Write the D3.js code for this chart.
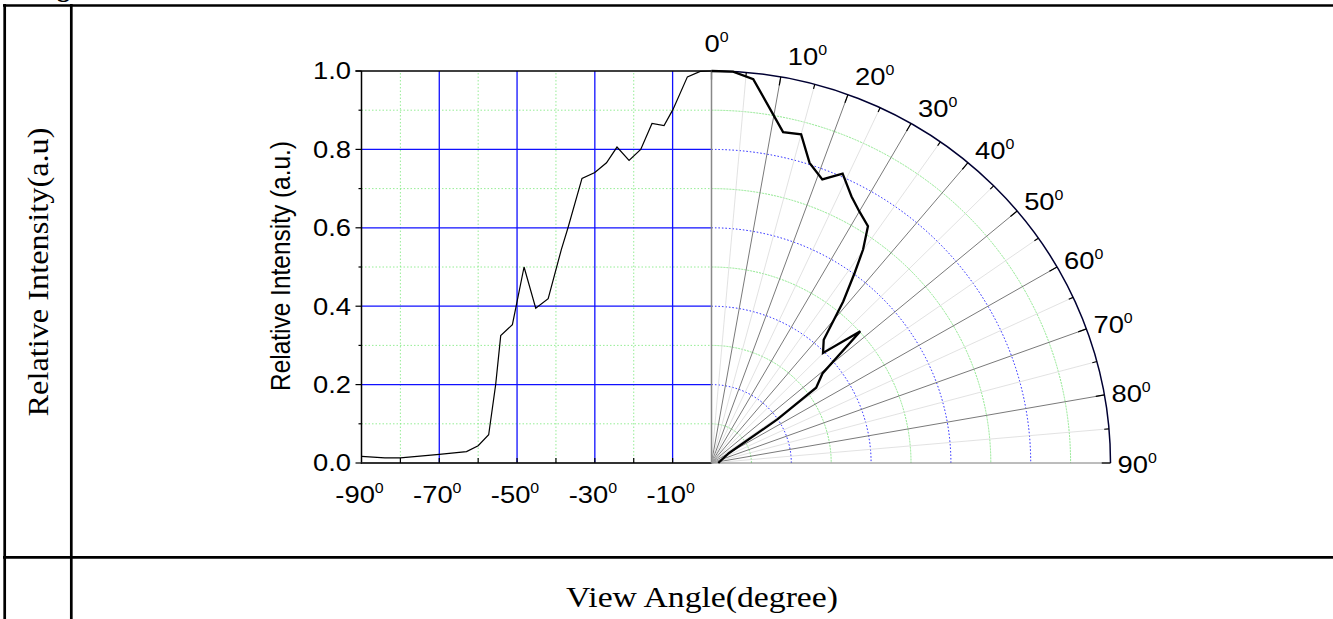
<!DOCTYPE html>
<html>
<head>
<meta charset="utf-8">
<script src="https://cdn.jsdelivr.net/npm/d3@7"></script>
<style>
  body { margin: 0; background: #fff; }
  svg { display: block; }
</style>
</head>
<body>
<svg id="chart" width="1333" height="619"></svg>
<script>
// left panel: intensity vs negative view angle
const leftAngles = [-90, -84, -80, -70, -63, -60, -57.3, -55.5, -54.2, -51.2, -48.2, -45.2, -42, -38.6, -36.9, -33.3, -30, -27, -24.3, -21.2, -18.2, -15.3, -12.2, -9.9, -6.2, -2.9, 0]
const leftValues = [0.017, 0.013, 0.013, 0.022, 0.029, 0.044, 0.072, 0.2, 0.325, 0.353, 0.5, 0.395, 0.419, 0.545, 0.6, 0.726, 0.741, 0.766, 0.806, 0.772, 0.8, 0.866, 0.861, 0.902, 0.985, 0.999, 1.0]

// right panel: polar plot, positive view angle
const polarAngles = [0, 3.1, 6.1, 12, 15, 17.8, 21, 24, 27.3, 30, 33, 34.9, 36.5, 38.7, 41.8, 44.9, 48, 50.6, 53.8, 56, 60, 90]
const polarValues = [1.0, 1.0, 0.985, 0.863, 0.868, 0.804, 0.775, 0.808, 0.765, 0.741, 0.72, 0.664, 0.603, 0.528, 0.422, 0.396, 0.502, 0.36, 0.325, 0.2, 0.05, 0.017]

const xTickLabels = [-90, -70, -50, -30, -10]
const yTickLabels = [0, 0.2, 0.4, 0.6, 0.8, 1.0]
const polarTickLabels = [0, 10, 20, 30, 40, 50, 60, 70, 80, 90]

const sans = "'Liberation Sans', Arial, sans-serif"
const serif = "'Liberation Serif', 'Times New Roman', serif"
const labelSize = 24
const stretch = 1.14
const at = (tx, ty) => `translate(${tx},${ty}) scale(${stretch},1)`

const svg = d3.select("#chart")

// table frame
const frame = svg.append("g").attr("stroke", "#000").attr("stroke-width", 2.7)
frame.append("line").attr("x1", 3).attr("x2", 1333).attr("y1", 5.5).attr("y2", 5.5)
frame.append("line").attr("x1", 4.7).attr("x2", 4.7).attr("y1", 4).attr("y2", 619)
frame.append("line").attr("x1", 71.3).attr("x2", 71.3).attr("y1", 4).attr("y2", 619)
frame.append("line").attr("x1", 3).attr("x2", 1333).attr("y1", 557.3).attr("y2", 557.3)

svg.append("text")
  .attr("x", 34).attr("y", -3)
  .attr("font-family", serif).attr("font-size", 26).attr("font-weight", "bold")
  .text("Fig")

svg.append("text")
  .attr("transform", "translate(48,272) rotate(-90)")
  .attr("text-anchor", "middle")
  .attr("font-family", serif).attr("font-size", 30)
  .attr("textLength", 289).attr("lengthAdjust", "spacingAndGlyphs")
  .text("Relative Intensity(a.u)")

svg.append("text")
  .attr("x", 702).attr("y", 607)
  .attr("text-anchor", "middle")
  .attr("font-family", serif).attr("font-size", 30)
  .attr("textLength", 272).attr("lengthAdjust", "spacingAndGlyphs")
  .text("View Angle(degree)")

// scales
const x = d3.scaleLinear().domain([-90, 0]).range([361.5, 711.5])
const y = d3.scaleLinear().domain([0, 1]).range([463, 71])
const cx = 711.5, cy = 463
const rX = d3.scaleLinear().domain([0, 1]).range([0, 399])
const rY = d3.scaleLinear().domain([0, 1]).range([0, 392])
const rad = (a) => a * Math.PI / 180
const px = (a, r) => cx + rX(r) * Math.sin(rad(a))
const py = (a, r) => cy - rY(r) * Math.cos(rad(a))

// left grid
const grid = svg.append("g")
grid.selectAll(".vminor")
  .data(d3.range(-80, 0, 20))
  .join("line")
  .attr("x1", (d) => x(d)).attr("x2", (d) => x(d))
  .attr("y1", y(0)).attr("y2", y(1))
  .attr("stroke", "#7be87b").attr("stroke-width", 0.8).attr("stroke-dasharray", "1.5,2")
grid.selectAll(".hminor")
  .data(d3.range(0.1, 1, 0.2))
  .join("line")
  .attr("x1", x(-90)).attr("x2", x(0))
  .attr("y1", (d) => y(d)).attr("y2", (d) => y(d))
  .attr("stroke", "#7be87b").attr("stroke-width", 0.8).attr("stroke-dasharray", "1.5,2")
grid.selectAll(".vmajor")
  .data(d3.range(-70, 0, 20))
  .join("line")
  .attr("x1", (d) => x(d)).attr("x2", (d) => x(d))
  .attr("y1", y(0)).attr("y2", y(1))
  .attr("stroke", "#1010ff").attr("stroke-width", 1.3)
grid.selectAll(".hmajor")
  .data([0.2, 0.4, 0.6, 0.8])
  .join("line")
  .attr("x1", x(-90)).attr("x2", x(0))
  .attr("y1", (d) => y(d)).attr("y2", (d) => y(d))
  .attr("stroke", "#1010ff").attr("stroke-width", 1.3)

// polar grid: rings
const ringPath = (r) => `M${cx},${cy - rY(r)} A${rX(r)},${rY(r)} 0 0 1 ${cx + rX(r)},${cy}`
const polar = svg.append("g")
polar.selectAll(".ring")
  .data(d3.range(1, 10).map((i) => i / 10))
  .join("path")
  .attr("d", ringPath)
  .attr("fill", "none")
  .attr("stroke", (d, i) => i % 2 ? "#1a1aff" : "#8ee88e")
  .attr("stroke-width", 1)
  .attr("stroke-dasharray", (d, i) => i % 2 ? "1.5,2" : "2,1")

// polar grid: spokes
polar.selectAll(".spoke")
  .data(d3.range(0, 91, 5))
  .join("line")
  .attr("x1", cx).attr("y1", cy)
  .attr("x2", (d) => px(d, 1)).attr("y2", (d) => py(d, 1))
  .attr("stroke", (d) => d % 10 === 0 ? "#7a7a7a" : "#dadada")
  .attr("stroke-width", (d) => d % 10 === 0 ? 1 : 0.8)

polar.append("path")
  .attr("d", ringPath(1))
  .attr("fill", "none").attr("stroke", "#000033").attr("stroke-width", 1.5)

// polar ticks on the outer arc
polar.selectAll(".ptick")
  .data(d3.range(0, 91, 5))
  .join("line")
  .attr("x1", (d) => px(d, 1)).attr("y1", (d) => py(d, 1))
  .attr("x2", (d) => px(d, d % 10 === 0 ? 0.978 : 0.988))
  .attr("y2", (d) => py(d, d % 10 === 0 ? 0.978 : 0.988))
  .attr("stroke", "#000").attr("stroke-width", 1.2)

// polar angle labels
const plabels = polar.selectAll(".plabel")
  .data(polarTickLabels)
  .join("text")
  .attr("transform", (d) => at(
    px(d, 1) + (d === 0 ? -7 : 7),
    py(d, 1) + (d === 0 ? -19 : -15 + 25 * d / 90)))
  .attr("font-family", sans).attr("font-size", labelSize)
plabels.append("tspan").text((d) => d)
plabels.append("tspan").attr("dy", -10).attr("font-size", 14).text("0")

// left axes
const axes = svg.append("g").attr("stroke", "#000")
axes.append("line")
  .attr("x1", x(-90)).attr("x2", x(-90)).attr("y1", y(0) + 1).attr("y2", y(1))
  .attr("stroke-width", 1.5)
axes.append("line")
  .attr("x1", x(-90) - 6).attr("x2", x(0)).attr("y1", y(1)).attr("y2", y(1))
  .attr("stroke-width", 1.5)
axes.append("line")
  .attr("x1", x(-90)).attr("x2", x(0)).attr("y1", y(0)).attr("y2", y(0))
  .attr("stroke", "#333").attr("stroke-width", 2)
axes.selectAll(".ytick")
  .data(d3.range(0, 11).map((i) => i / 10))
  .join("line")
  .attr("x1", (d, i) => x(-90) - (i % 2 ? 3 : 6)).attr("x2", x(-90))
  .attr("y1", (d) => y(d)).attr("y2", (d) => y(d))
  .attr("stroke-width", 1.2)
axes.selectAll(".xtick")
  .data(d3.range(-80, 0, 10))
  .join("line")
  .attr("x1", (d) => x(d)).attr("x2", (d) => x(d))
  .attr("y1", y(0)).attr("y2", y(0) - 5)
  .attr("stroke-width", 1.2)
axes.append("line")
  .attr("x1", x(0)).attr("x2", x(0)).attr("y1", y(0)).attr("y2", y(1))
  .attr("stroke", "#888").attr("stroke-width", 1.5)

svg.selectAll(".ylabel")
  .data(yTickLabels)
  .join("text")
  .attr("transform", (d) => at(351, y(d)))
  .attr("dy", "0.35em")
  .attr("text-anchor", "end")
  .attr("font-family", sans).attr("font-size", labelSize)
  .text((d) => d3.format(".1f")(d))

const xlabels = svg.selectAll(".xlabel")
  .data(xTickLabels)
  .join("text")
  .attr("transform", (d) => at(x(d) - 2, 503))
  .attr("text-anchor", "middle")
  .attr("font-family", sans).attr("font-size", labelSize)
xlabels.append("tspan").text((d) => d)
xlabels.append("tspan").attr("dy", -10).attr("font-size", 14).text("0")

svg.append("text")
  .attr("transform", `translate(290,266) rotate(-90) scale(1,${stretch})`)
  .attr("text-anchor", "middle")
  .attr("font-family", sans).attr("font-size", labelSize)
  .attr("textLength", 250).attr("lengthAdjust", "spacingAndGlyphs")
  .text("Relative Intensity (a.u.)")

// curves
svg.append("path")
  .datum(d3.zip(leftAngles, leftValues))
  .attr("fill", "none").attr("stroke", "#000").attr("stroke-width", 1.2)
  .attr("d", d3.line().x((d) => x(d[0])).y((d) => y(d[1])))

svg.append("path")
  .datum(d3.zip(polarAngles, polarValues))
  .attr("fill", "none").attr("stroke", "#000").attr("stroke-width", 2.3)
  .attr("stroke-linejoin", "miter")
  .attr("d", d3.line().x((d) => px(d[0], d[1])).y((d) => py(d[0], d[1])))
</script>
</body>
</html>
